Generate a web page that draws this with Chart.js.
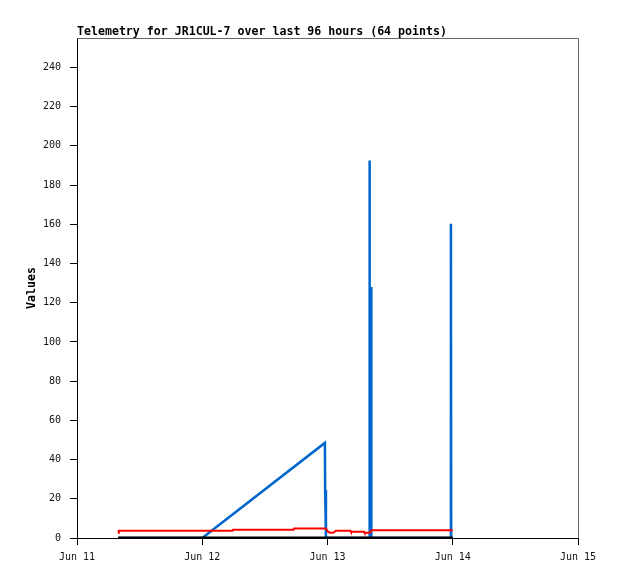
<!DOCTYPE html>
<html>
<head>
<meta charset="utf-8">
<script src="https://cdn.jsdelivr.net/npm/chart.js@4/dist/chart.umd.min.js"></script>
<style>
  body { margin: 0; background: #fff; }
</style>
</head>
<body>
<canvas id="telemetryChart" width="618" height="579"></canvas>
<script>
// hours since Jun 11 00:00
var xTickLabels = ['Jun 11', 'Jun 12', 'Jun 13', 'Jun 14', 'Jun 15'];

var redHours  = [7.9, 8.0, 29.8, 29.9, 41.5, 41.6, 47.7, 48.1, 48.5, 49.1, 49.6, 52.4, 52.5, 55.0, 55.1, 56.1, 56.5, 72.0];
var redValues = [2.6, 3.7, 3.7, 4.2, 4.2, 4.9, 4.9, 3.2, 2.7, 2.7, 3.7, 3.7, 3.2, 3.2, 2.7, 2.7, 3.9, 3.9];

var blueHours  = [7.9, 24.0, 47.5, 47.55, 47.7, 56.0, 56.05, 56.1, 56.3, 56.35, 56.4, 71.6, 71.65, 71.7, 72.0];
var blueValues = [0, 0, 48.5, 24.5, 0, 0, 192.5, 0, 0, 128, 0, 0, 160.3, 0, 0];

var blackHours  = [7.9, 72.0];
var blackValues = [0, 0];

function toPoints(xs, ys) {
    return xs.map(function (x, i) { return { x: x, y: ys[i] }; });
}

var frameAndTitle = {
    id: 'frameAndTitle',
    afterDraw: function (chart) {
        var c = chart.ctx, a = chart.chartArea;
        c.save();
        c.strokeStyle = '#666';
        c.lineWidth = 1;
        c.beginPath();
        c.moveTo(a.left, a.top + 0.5);
        c.lineTo(a.right + 0.5, a.top + 0.5);
        c.lineTo(a.right + 0.5, a.bottom);
        c.stroke();
        c.fillStyle = '#000';
        c.font = 'bold 11.6px "DejaVu Sans Mono"';
        c.textBaseline = 'alphabetic';
        c.fillText('Telemetry for JR1CUL-7 over last 96 hours (64 points)', a.left, 35);
        c.restore();
    }
};

var ctx = document.getElementById('telemetryChart').getContext('2d');
var chart = new Chart(ctx, {
    type: 'line',
    data: {
        datasets: [{
            label: 'ch3',
            data: toPoints(blackHours, blackValues),
            borderColor: '#000',
            borderWidth: 3,
            pointRadius: 0
        }, {
            label: 'ch1',
            data: toPoints(redHours, redValues),
            borderColor: '#ff0000',
            borderWidth: 2,
            pointRadius: 0
        }, {
            label: 'ch2',
            data: toPoints(blueHours, blueValues),
            borderColor: '#0066cc',
            borderWidth: 2.5,
            pointRadius: 0
        }]
    },
    options: {
        responsive: false,
        animation: false,
        devicePixelRatio: 1,
        layout: { padding: { top: 38, right: 40, left: 0, bottom: 0 } },
        plugins: {
            legend: { display: false },
            tooltip: { enabled: false }
        },
        elements: { line: { tension: 0 } },
        scales: {
            x: {
                type: 'linear',
                min: 0,
                max: 96,
                grid: { drawOnChartArea: false, tickLength: 7, color: '#000' },
                border: { color: '#000' },
                ticks: {
                    stepSize: 24,
                    autoSkip: false,
                    maxRotation: 0,
                    padding: 6,
                    color: '#111',
                    font: { family: 'DejaVu Sans Mono', size: 10 },
                    callback: function (v) { return xTickLabels[v / 24]; }
                },
                afterFit: function (scale) { scale.height = 41; }
            },
            y: {
                min: 0,
                max: 255,
                grid: { drawOnChartArea: false, tickLength: 7, color: '#000' },
                border: { color: '#000' },
                ticks: {
                    stepSize: 20,
                    padding: 9,
                    color: '#111',
                    font: { family: 'DejaVu Sans Mono', size: 10 }
                },
                title: {
                    display: true,
                    text: 'Values',
                    color: '#000',
                    font: { family: 'DejaVu Sans Mono', size: 11.6, weight: 'bold' },
                    padding: { top: 25, bottom: 0 }
                },
                afterBuildTicks: function (scale) {
                    scale.ticks = scale.ticks.filter(function (t) { return t.value % 20 === 0; });
                },
                afterFit: function (scale) { scale.width = 77; }
            }
        }
    },
    plugins: [frameAndTitle]
});
</script>
</body>
</html>
